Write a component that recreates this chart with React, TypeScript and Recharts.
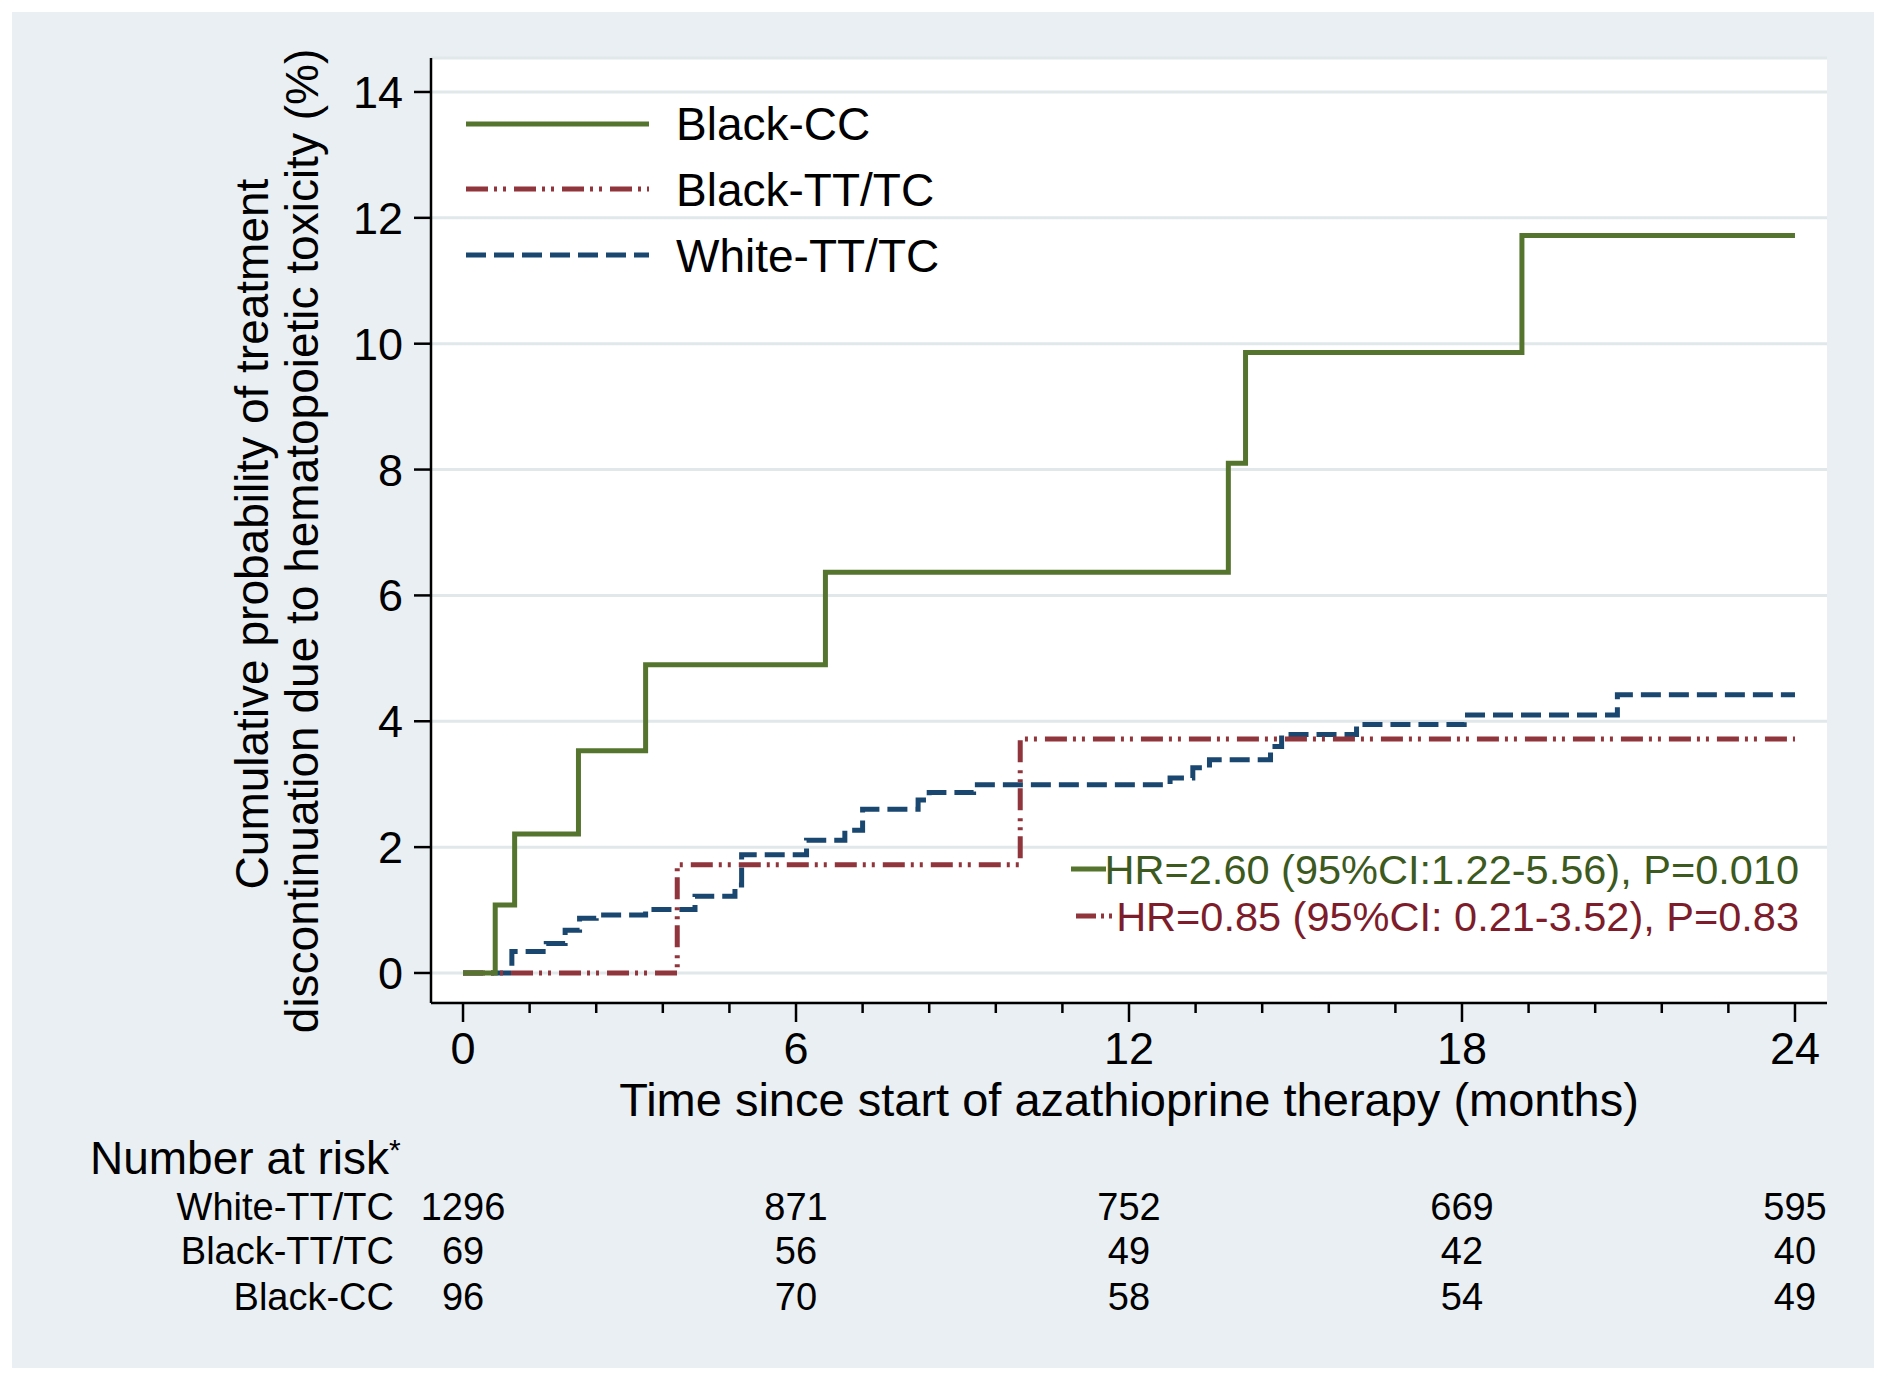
import React from "react";
import { LineChart, Line, XAxis, YAxis, CartesianGrid } from "recharts";

// time axis (months)
const monthTicks = [0, 6, 12, 18, 24];
const minorTicks = [0, 1.2, 2.4, 3.6, 4.8, 6, 7.2, 8.4, 9.6, 10.8, 12, 13.2, 14.4, 15.6, 16.8, 18, 19.2, 20.4, 21.6, 22.8, 24];
const probTicks = [0, 2, 4, 6, 8, 10, 12, 14];

// Kaplan-Meier steps (months, cumulative %)
const blackCCTime = [0, 0.58, 0.93, 2.08, 3.29, 6.53, 13.79, 14.1, 19.08, 24];
const blackCCProb = [0, 1.08, 2.21, 3.53, 4.9, 6.37, 8.1, 9.86, 11.72, 11.72];

const blackTTTime = [0, 3.86, 10.04, 24];
const blackTTProb = [0, 1.72, 3.72, 3.72];

const whiteTTTime = [0, 0.68, 0.88, 1.5, 1.84, 2.1, 2.4, 3.29, 4.18, 4.9, 5.02, 6.19, 6.88, 7.2, 8.2, 8.4, 9.2, 12.74, 13.15, 13.45, 14.55, 14.75, 16.1, 18.04, 20.8, 24];
const whiteTTProb = [0, 0, 0.34, 0.47, 0.68, 0.87, 0.92, 1.01, 1.22, 1.4, 1.88, 2.11, 2.27, 2.6, 2.75, 2.87, 2.99, 3.1, 3.26, 3.39, 3.6, 3.79, 3.95, 4.1, 4.42, 4.42];

// number at risk
const riskWhite = [1296, 871, 752, 669, 595];
const riskBlackTT = [69, 56, 49, 42, 40];
const riskBlackCC = [96, 70, 58, 54, 49];

const GREEN = "#55752f";
const MAROON = "#90353b";
const NAVY = "#1a476f";
const FONT = '"Liberation Sans", Arial, sans-serif';
const DASH = "20 8";
const DASH_DOT = "22 6 3 6 3 8";
const LW = 5;

const xDomain = [-0.577, 24.577];
const yDomain = [-0.477, 14.54];

const toPoints = (ts: number[], vs: number[]) => ts.map((t, i) => ({ t, v: vs[i] }));

const MonthTick = (props: any) => {
  const { x, y, payload } = props;
  const major = monthTicks.includes(payload.value);
  return (
    <g>
      <line x1={x} x2={x} y1={y} y2={y + (major ? 19 : 10)} stroke="#000" strokeWidth={2.5} />
      {major && (
        <text x={x} y={y + 61} textAnchor="middle" fontSize={45} fill="#000">
          {payload.value}
        </text>
      )}
    </g>
  );
};

const riskTick = (counts: number[]) => (props: any) => {
  const { x, y, payload } = props;
  const i = monthTicks.indexOf(payload.value);
  return (
    <text x={x} y={y + 27} textAnchor="middle" fontSize={38} fill="#000">
      {counts[i]}
    </text>
  );
};

const riskAxis = (id: string, counts: number[], height: number) => (
  <XAxis
    xAxisId={id}
    type="number"
    dataKey="t"
    domain={xDomain}
    allowDataOverflow
    ticks={monthTicks}
    interval={0}
    tick={riskTick(counts)}
    axisLine={false}
    tickLine={false}
    tickSize={0}
    tickMargin={0}
    height={height}
  />
);

export default function App() {
  return (
    <div style={{ position: "absolute", left: 0, top: 0, width: 1885, height: 1378, background: "#fff", fontFamily: FONT }}>
      <div style={{ position: "absolute", left: 12, top: 12, width: 1862, height: 1356, background: "#e9eff2" }} />
      <div style={{ position: "absolute", left: 0, top: 0 }}>
        <LineChart width={1885} height={1378} margin={{ top: 58, right: 58, left: 331, bottom: 45 }}>
          <CartesianGrid vertical={false} stroke="#e1e8ea" strokeWidth={3} fill="#ffffff" />
          <XAxis
            type="number"
            dataKey="t"
            domain={xDomain}
            allowDataOverflow
            ticks={minorTicks}
            interval={0}
            tick={<MonthTick />}
            tickLine={false}
            tickSize={0}
            tickMargin={0}
            axisLine={{ stroke: "#000", strokeWidth: 2.5 }}
            height={190}
          />
          {riskAxis("r1", riskWhite, 44)}
          {riskAxis("r2", riskBlackTT, 46)}
          {riskAxis("r3", riskBlackCC, 50)}
          <YAxis
            type="number"
            domain={yDomain}
            allowDataOverflow
            ticks={probTicks}
            interval={0}
            width={100}
            tickSize={17}
            tickMargin={11}
            tick={{ fontSize: 45, fill: "#000" }}
            tickLine={{ stroke: "#000", strokeWidth: 2.5 }}
            axisLine={{ stroke: "#000", strokeWidth: 2.5 }}
          />
          <Line
            data={toPoints(whiteTTTime, whiteTTProb)}
            dataKey="v"
            type="stepAfter"
            stroke={NAVY}
            strokeWidth={LW}
            strokeDasharray={DASH}
            dot={false}
            activeDot={false}
            isAnimationActive={false}
          />
          <Line
            data={toPoints(blackTTTime, blackTTProb)}
            dataKey="v"
            type="stepAfter"
            stroke={MAROON}
            strokeWidth={LW}
            strokeDasharray={DASH_DOT}
            dot={false}
            activeDot={false}
            isAnimationActive={false}
          />
          <Line
            data={toPoints(blackCCTime, blackCCProb)}
            dataKey="v"
            type="stepAfter"
            stroke={GREEN}
            strokeWidth={LW}
            dot={false}
            activeDot={false}
            isAnimationActive={false}
          />
        </LineChart>
      </div>
      <svg width={1885} height={1378} style={{ position: "absolute", left: 0, top: 0, pointerEvents: "none" }}>
        {/* y title */}
        <text x={268} y={534} transform="rotate(-90 268 534)" textAnchor="middle" fontSize={46} fill="#000">
          Cumulative probability of treatment
        </text>
        <text x={318} y={541} transform="rotate(-90 318 541)" textAnchor="middle" fontSize={46} fill="#000">
          discontinuation due to hematopoietic toxicity (%)
        </text>
        {/* x title */}
        <text x={1129} y={1116} textAnchor="middle" fontSize={47} fill="#000">
          Time since start of azathioprine therapy (months)
        </text>

        {/* legend */}
        <line x1={466} x2={649} y1={124} y2={124} stroke={GREEN} strokeWidth={LW} />
        <text x={676} y={140} fontSize={46} fill="#000">Black-CC</text>
        <line x1={466} x2={649} y1={189} y2={189} stroke={MAROON} strokeWidth={LW} strokeDasharray={DASH_DOT} />
        <text x={676} y={206} fontSize={46} fill="#000">Black-TT/TC</text>
        <line x1={466} x2={649} y1={255} y2={255} stroke={NAVY} strokeWidth={LW} strokeDasharray={DASH} />
        <text x={676} y={272} fontSize={46} fill="#000">White-TT/TC</text>

        {/* hazard ratios */}
        <line x1={1071} x2={1106} y1={869} y2={869} stroke={GREEN} strokeWidth={LW} />
        <text x={1799} y={884} textAnchor="end" fontSize={41.5} fill="#3c5a20">
          HR=2.60 (95%CI:1.22-5.56), P=0.010
        </text>
        <line x1={1076} x2={1116} y1={916} y2={916} stroke={MAROON} strokeWidth={LW} strokeDasharray="20 5 3 5 3 5" />
        <text x={1799} y={931} textAnchor="end" fontSize={41.5} fill="#7d1d2b">
          HR=0.85 (95%CI: 0.21-3.52), P=0.83
        </text>

        {/* number at risk labels */}
        <text x={90} y={1174} fontSize={46} fill="#000">
          Number at risk<tspan fontSize={30} dy={-14}>*</tspan>
        </text>
        <text x={394} y={1220} textAnchor="end" fontSize={38} fill="#000">White-TT/TC</text>
        <text x={394} y={1264} textAnchor="end" fontSize={38} fill="#000">Black-TT/TC</text>
        <text x={394} y={1310} textAnchor="end" fontSize={38} fill="#000">Black-CC</text>
      </svg>
    </div>
  );
}
